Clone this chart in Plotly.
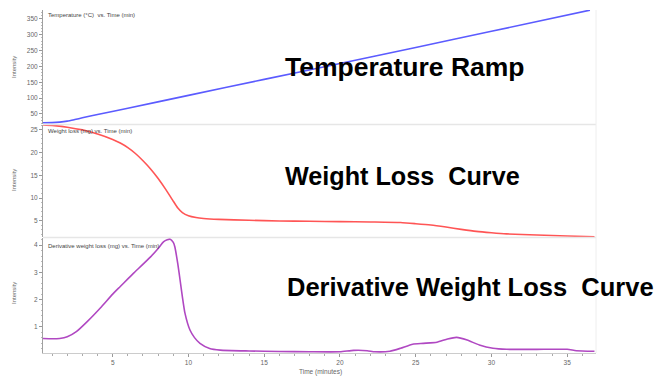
import plotly.graph_objects as go
from plotly.subplots import make_subplots

# ---------------- data ----------------
temp_time = [0.4, 1.0, 1.5, 2.0, 2.5, 3.0, 4.0, 6.0, 10.0, 15.0, 20.0, 25.0, 30.0, 36.5]
temp_c = [22, 22.5, 24, 27, 32, 37.5, 48, 68, 108.5, 159, 209.5, 260, 311, 378]

wl_time = [0.4, 1.0, 2.0, 3.0, 4.0, 5.0, 5.5, 6.0, 6.5, 7.0, 7.5, 8.0, 8.5, 9.0, 9.3, 9.6,
           10.0, 10.5, 11.0, 12.0, 14.0, 16.0, 18.0, 20.0, 22.0, 24.0, 25.0, 26.0, 27.0,
           28.0, 29.0, 30.0, 31.0, 33.0, 35.0, 36.8]
wl_mg = [26.1, 26.0, 25.6, 25.0, 24.1, 22.9, 22.1, 21.1, 19.8, 18.2, 16.4, 14.3, 11.9, 9.3,
         7.8, 6.8, 6.1, 5.7, 5.5, 5.3, 5.1, 4.95, 4.88, 4.8, 4.72, 4.6, 4.35, 4.05, 3.6,
         3.1, 2.65, 2.35, 2.1, 1.85, 1.65, 1.45]

dw_time = [0.4, 1.0, 1.5, 2.0, 2.6, 3.3, 4.2, 5.0, 5.5, 6.0, 6.4, 7.5, 8.0, 8.35, 8.6, 8.8,
           9.0, 9.1, 9.3, 9.45, 9.6, 9.77, 10.1, 10.4, 10.76, 11.4, 12.1, 14.0, 16.0, 18.0,
           20.0, 20.9, 21.8, 22.3, 23.3, 24.0, 24.8, 25.5, 26.4, 27.1, 27.7, 28.4, 29.2,
           30.1, 31.0, 33.0, 35.0, 35.6, 36.8]
dw_mg = [0.57, 0.56, 0.57, 0.63, 0.82, 1.18, 1.7, 2.2, 2.48, 2.76, 2.98, 3.57, 3.88, 4.12,
         4.2, 4.22, 4.1, 3.94, 3.3, 2.71, 2.1, 1.5, 0.88, 0.6, 0.39, 0.2, 0.14, 0.11, 0.09,
         0.08, 0.08, 0.13, 0.12, 0.08, 0.1, 0.21, 0.36, 0.39, 0.43, 0.55, 0.61, 0.51, 0.33,
         0.21, 0.17, 0.17, 0.17, 0.12, 0.1]

panel_titles = ["Temperature (°C)  vs. Time (min)",
                "Weight loss (mg) vs. Time (min)",
                "Derivative weight loss (mg) vs. Time (min)"]
big_labels = ["Temperature Ramp",
              "Weight Loss\u00a0 Curve",
              "Derivative Weight Loss\u00a0 Curve"]

# ---------------- layout helpers ----------------
W, H = 661, 377
ML, MR, MT, MB = 43, 65, 10, 24
PW, PH = W - ML - MR, H - MT - MB


def px(x):
    return (x - ML) / PW


def py(y):
    return 1 - (y - MT) / PH


fig = make_subplots(rows=3, cols=1, shared_xaxes=True, vertical_spacing=0)

fig.add_trace(go.Scatter(x=temp_time, y=temp_c, mode="lines",
                         line=dict(color="#5b5bff", width=1.6, shape="spline", smoothing=0.6)),
              row=1, col=1)
fig.add_trace(go.Scatter(x=wl_time, y=wl_mg, mode="lines",
                         line=dict(color="#ff5555", width=1.6, shape="spline", smoothing=0.6)),
              row=2, col=1)
fig.add_trace(go.Scatter(x=dw_time, y=dw_mg, mode="lines",
                         line=dict(color="#b048c2", width=1.6, shape="spline", smoothing=0.5)),
              row=3, col=1)

tickfont = dict(family="Liberation Sans, Arial, sans-serif", size=6.5, color="#666666")
axcommon = dict(showgrid=False, zeroline=False, showline=True, linecolor="#a0a0a0",
                ticks="outside", ticklen=3, tickcolor="#999999", tickfont=tickfont)

fig.update_layout(
    width=W, height=H, margin=dict(l=ML, r=MR, t=MT, b=MB),
    paper_bgcolor="white", plot_bgcolor="white", showlegend=False,
    xaxis=dict(domain=[0, 1], range=[0.4, 36.9], **{**axcommon, "showline": False}, showticklabels=False),
    xaxis2=dict(domain=[0, 1], range=[0.4, 36.9], **{**axcommon, "showline": False}, showticklabels=False),
    xaxis3=dict(domain=[0, 1], range=[0.4, 36.9], tickvals=[5, 10, 15, 20, 25, 30, 35],
                minor=dict(dtick=1, ticklen=2, tickcolor="#aaaaaa", ticks="outside"),
                **{**axcommon, "linecolor": "#cccccc"}),
    yaxis=dict(domain=[0.668, 1], range=[18.4, 378.4], tickvals=[50, 100, 150, 200, 250, 300, 350],
               minor=dict(dtick=10, ticklen=1.5, tickcolor="#bbbbbb", ticks="outside"), **axcommon),
    yaxis2=dict(domain=[0.338, 0.665], range=[1.4, 26.1], tickvals=[5, 10, 15, 20, 25],
                minor=dict(dtick=1, ticklen=1.5, tickcolor="#bbbbbb", ticks="outside"), **axcommon),
    yaxis3=dict(domain=[0, 0.335], range=[0.035, 4.26], tickvals=[1, 2, 3, 4],
                minor=dict(dtick=0.2, ticklen=1.5, tickcolor="#bbbbbb", ticks="outside"), **axcommon),
)
fig.update_xaxes(ticks="", row=1, col=1)
fig.update_xaxes(ticks="", row=2, col=1)

shapes = []
for yb in (124.5, 237.5):
    shapes.append(dict(type="line", xref="paper", yref="paper", x0=0, x1=1, y0=py(yb), y1=py(yb),
                       line=dict(color="#e6e6e6", width=1.5)))
shapes.append(dict(type="line", xref="paper", yref="paper", x0=px(596), x1=px(596), y0=0, y1=1,
                   line=dict(color="#eeeeee", width=1)))
fig.update_layout(shapes=shapes)

ann = []
small = dict(family="Liberation Sans, Arial, sans-serif", size=6, color="#444444")
for title, ty in zip(panel_titles, (15.5, 130.5, 245.5)):
    ann.append(dict(text=title, xref="paper", yref="paper", x=px(46), y=py(ty),
                    xanchor="left", yanchor="middle", showarrow=False, font=small))
for cy in (67, 180, 293):
    ann.append(dict(text="Intensity", xref="paper", yref="paper", x=px(14), y=py(cy),
                    xanchor="center", yanchor="middle", textangle=-90, showarrow=False,
                    font=dict(family="Liberation Sans, Arial, sans-serif", size=6, color="#666666")))
ann.append(dict(text="Time (minutes)", xref="paper", yref="paper", x=px(320), y=py(371.5),
                xanchor="center", yanchor="middle", showarrow=False,
                font=dict(family="Liberation Sans, Arial, sans-serif", size=6.5, color="#666666")))
for lab, lx, ly, fs in zip(big_labels, (283, 283, 285), (67, 176, 286.5), (26.5, 25.2, 25.5)):
    ann.append(dict(text="<b>" + lab + "</b>", xref="paper", yref="paper", x=px(lx), y=py(ly),
                    xanchor="left", yanchor="middle", showarrow=False,
                    font=dict(family="Liberation Sans, Arial, sans-serif", size=fs, color="black")))
fig.update_layout(annotations=ann)

fig.write_html("out.html")
